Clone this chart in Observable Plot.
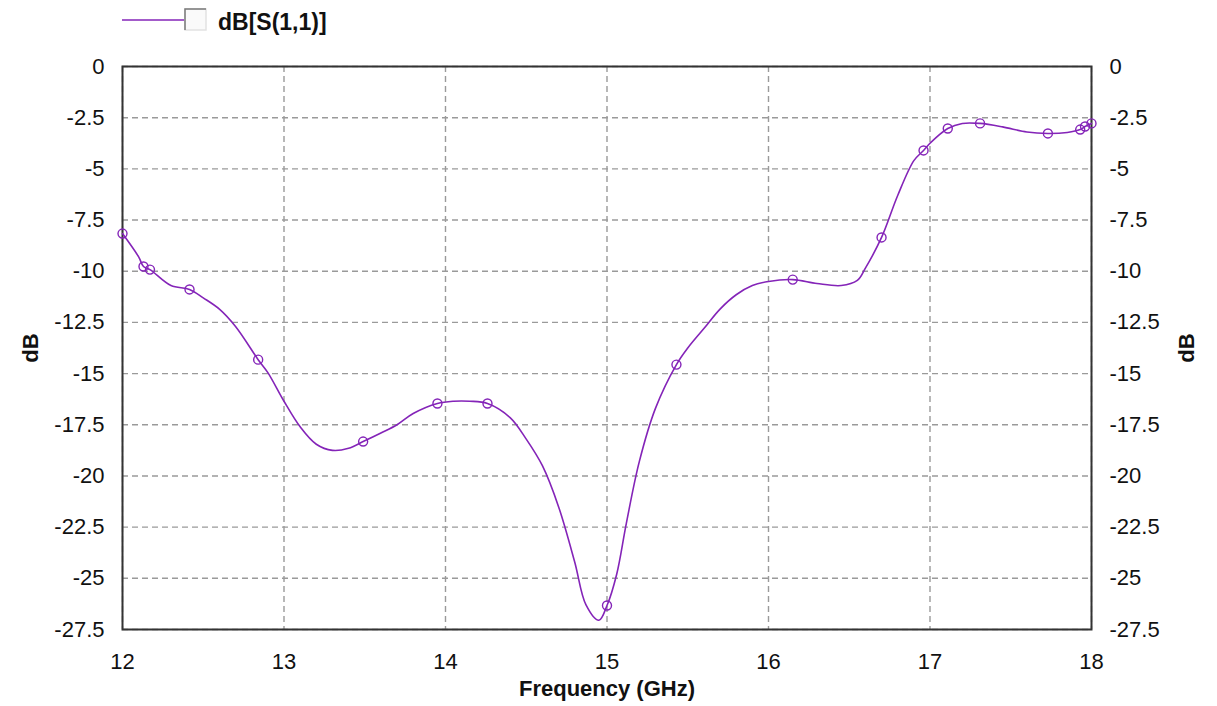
<!DOCTYPE html>
<html>
<head>
<meta charset="utf-8">
<script src="https://cdn.jsdelivr.net/npm/d3@7"></script>
<script src="https://cdn.jsdelivr.net/npm/@observablehq/plot@0.6"></script>
<style>
  html, body { margin: 0; padding: 0; background: #fff; }
  #wrap { width: 1217px; height: 706px; position: relative; font-family: "Liberation Sans", Arial, sans-serif; }
  #legend { position: relative; height: 40px; }
  #legend svg { position: absolute; left: 0; top: 0; }
</style>
</head>
<body>
<div id="wrap">
  <div id="legend"></div>
  <div id="chart"></div>
</div>
<script>
// S(1,1) return loss in dB versus frequency (GHz)
// traced points of the swept response
const sweepFreq = [12.1, 12.3, 12.5, 12.6, 12.7, 12.9, 13.0, 13.1, 13.2, 13.3, 13.4, 13.6, 13.7, 13.8,
  14.05, 14.15, 14.4, 14.5, 14.6, 14.7, 14.8, 14.87, 14.95, 15.06, 15.12, 15.2, 15.3,
  15.5, 15.6, 15.7, 15.8, 15.9, 16.0, 16.3, 16.45, 16.55, 16.6, 16.8, 16.9, 17.0, 17.2, 17.45, 17.6, 17.85];
const sweepDb = [-9.3, -10.7, -11.3, -11.85, -12.7, -14.95, -16.35, -17.6, -18.45, -18.75, -18.65, -17.9, -17.5, -16.95,
  -16.35, -16.35, -17.15, -18.2, -19.5, -21.5, -24.2, -26.3, -27.05, -24.8, -22.3, -19.3, -16.7,
  -13.75, -12.8, -11.85, -11.15, -10.7, -10.5, -10.6, -10.7, -10.45, -9.85, -6.3, -4.6, -3.75, -2.78, -2.95, -3.2, -3.22];

// solved frequency points, drawn with markers
const markerFreq = [12.0, 12.13, 12.17, 12.415, 12.84, 13.49, 13.95, 14.26, 15.0, 15.43, 16.15, 16.7, 16.96,
  17.11, 17.31, 17.73, 17.93, 17.96, 18.0];
const markerDb = [-8.16, -9.77, -9.92, -10.89, -14.32, -18.32, -16.46, -16.46, -26.33, -14.56, -10.41, -8.35, -4.1,
  -3.03, -2.78, -3.27, -3.08, -2.93, -2.78];

const xTicks = [12, 13, 14, 15, 16, 17, 18];
const yTicks = [0, -2.5, -5, -7.5, -10, -12.5, -15, -17.5, -20, -22.5, -25, -27.5];
const seriesName = "dB[S(1,1)]";

const purple = "#8424b8";

const markers = markerFreq.map((f, i) => ({f, db: markerDb[i]}));
const curve = sweepFreq.map((f, i) => ({f, db: sweepDb[i]}))
  .concat(markers)
  .sort((a, b) => a.f - b.f);

// legend row above the plot
const leg = d3.select("#legend").append("svg").attr("width", 1217).attr("height", 40);
leg.append("line").attr("x1", 122).attr("x2", 184).attr("y1", 20).attr("y2", 20)
  .attr("stroke", purple).attr("stroke-opacity", 0.75).attr("stroke-width", 2);
leg.append("rect").attr("x", 185).attr("y", 9).attr("width", 21).attr("height", 21)
  .attr("fill", "#fafafa").attr("stroke", "#e2e2e2").attr("stroke-width", 1.5);
leg.append("path").attr("d", "M185,30V9H206").attr("fill", "none")
  .attr("stroke", "#7a7a7a").attr("stroke-width", 1.5);
leg.append("text").attr("x", 218).attr("y", 30)
  .attr("font-family", "'Liberation Sans', Arial, sans-serif")
  .attr("font-size", 23).attr("font-weight", "bold").attr("fill", "#111")
  .text(seriesName);

const fmt = d => String(d);
const grid = {stroke: "#9a9a9a", strokeOpacity: 1, strokeWidth: 1.4, strokeDasharray: "6,4"};

const chart = Plot.plot({
  width: 1217,
  height: 666,
  marginTop: 26,
  marginBottom: 77,
  marginLeft: 122,
  marginRight: 126,
  style: {fontFamily: "'Liberation Sans', Arial, sans-serif", fontSize: "21px", color: "#111", background: "#fff"},
  x: {domain: [12, 18]},
  y: {domain: [-27.5, 0]},
  marks: [
    Plot.gridX(xTicks, grid),
    Plot.gridY(yTicks, grid),
    Plot.frame({stroke: "#333", strokeWidth: 2}),
    Plot.axisX(xTicks, {anchor: "bottom", tickSize: 0, tickPadding: 24, tickFormat: fmt,
      label: "Frequency (GHz)", labelAnchor: "center", labelArrow: "none", labelOffset: 66,
      fontSize: 22}),
    Plot.axisY(yTicks, {anchor: "left", tickSize: 0, tickPadding: 18, tickFormat: fmt,
      label: "dB", labelAnchor: "center", labelArrow: "none", labelOffset: 100, fontSize: 22}),
    Plot.axisY(yTicks, {anchor: "right", tickSize: 0, tickPadding: 18, tickFormat: fmt,
      label: "dB", labelAnchor: "center", labelArrow: "none", labelOffset: 102, fontSize: 22}),
    Plot.line(curve, {x: "f", y: "db", stroke: purple, strokeWidth: 1.6, curve: "catmull-rom"}),
    Plot.dot(markers, {x: "f", y: "db", r: 4.5, stroke: purple, strokeWidth: 1.4, fill: "none"})
  ]
});
document.getElementById("chart").appendChild(chart);

// bold axis titles only (tick labels stay regular)
d3.select(chart).selectAll("g[aria-label$='axis label'] text")
  .attr("font-weight", "bold");
</script>
</body>
</html>
